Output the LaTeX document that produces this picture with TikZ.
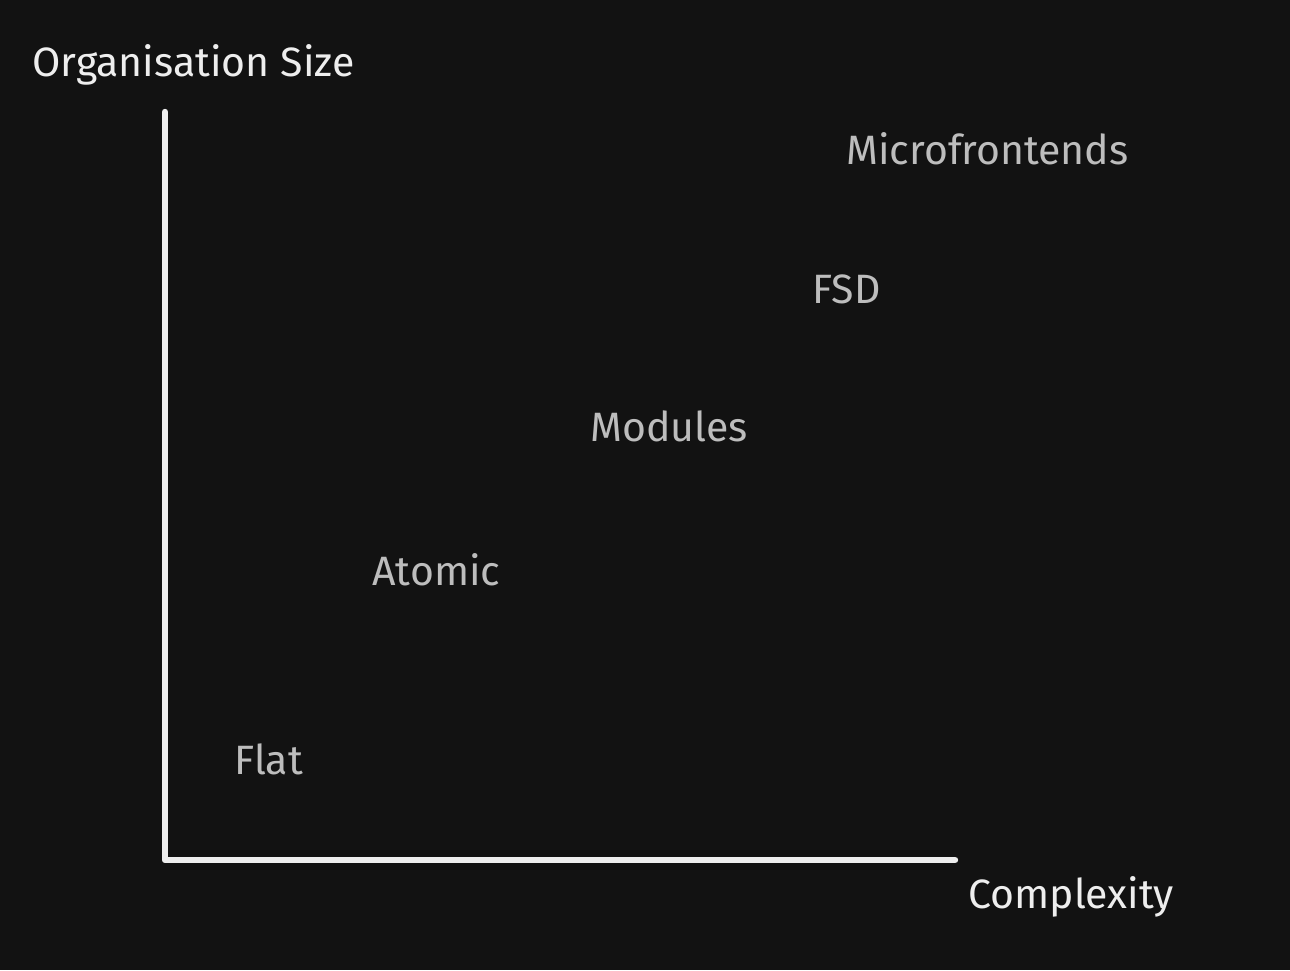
\documentclass[tikz,border=0pt]{standalone}
\usepackage{fontspec}
\setmainfont{Fira Sans}
\definecolor{bg}{HTML}{121212}
\definecolor{axis}{HTML}{EEEEEE}
\definecolor{item}{HTML}{BDBDBD}
\begin{document}
\begin{tikzpicture}[x=0.5pt,y=-0.5pt,
  axislabel/.style={text=axis,font=\fontsize{20.5}{24}\selectfont,anchor=base west,inner sep=0pt},
  itemlabel/.style={text=item,font=\fontsize{20.5}{24}\selectfont,anchor=base west,inner sep=0pt},
  axisline/.style={draw=axis,line width=3.2pt,line cap=round,line join=round}]
\fill[bg] (0,0) rectangle (1290,970);
\useasboundingbox (0,0) rectangle (1290,970);
\coordinate (top) at (165,112);
\coordinate (origin) at (165,860);
\coordinate (right) at (955,860);
\draw[axisline] (top) -- (origin) -- (right);
\node[axislabel] (ylab) at (32,76) {Organisation Size};
\node[axislabel] (xlab) at (968,908) {Complexity};
\node[itemlabel] (micro) at (846,164) {Microfrontends};
\node[itemlabel] (fsd) at (812,303) {FSD};
\node[itemlabel] (modules) at (590,441) {Modules};
\node[itemlabel] (atomic) at (372,585) {Atomic};
\node[itemlabel] (flat) at (234,774) {Flat};
\end{tikzpicture}
\end{document}
